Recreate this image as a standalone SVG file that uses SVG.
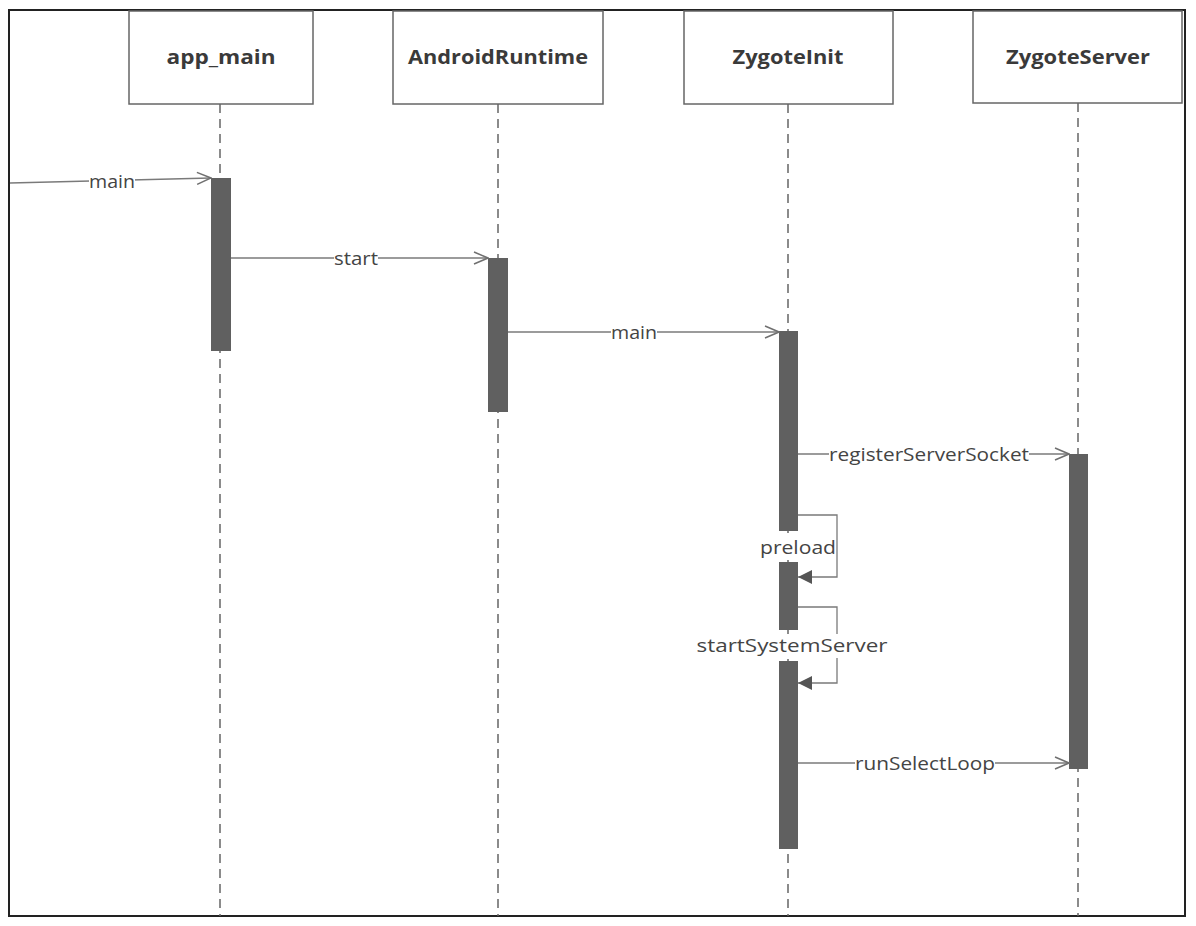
<svg xmlns="http://www.w3.org/2000/svg" width="1196" height="926" viewBox="0 0 1196 926">
<defs>
<marker id="open" markerWidth="16" markerHeight="14" refX="15" refY="7" orient="auto" markerUnits="userSpaceOnUse">
<path d="M1,1 L15,7 L1,13" fill="none" stroke="#707070" stroke-width="1.5"/>
</marker>
<marker id="filled" markerWidth="16" markerHeight="14" refX="15" refY="7" orient="auto" markerUnits="userSpaceOnUse">
<path d="M1,0 L15,7 L1,14 Z" fill="#555"/>
</marker>
<style>
.box{fill:#fff;stroke:#666;stroke-width:1.5}
.title{font-family:"Open Sans","Noto Sans",sans-serif;font-weight:bold;font-size:20px;fill:#3a3a3a;text-anchor:middle}
.life{stroke:#666;stroke-width:1.5;stroke-dasharray:9,6;fill:none}
.act{fill:#606060}
.msg{stroke:#7a7a7a;stroke-width:1.3;fill:none}
.lbl{font-family:"Open Sans","Noto Sans",sans-serif;font-size:19px;fill:#444;text-anchor:middle}
.bg{fill:#fff}
</style>
</defs>
<rect x="0" y="0" width="1196" height="926" fill="#fff"/>
<rect x="9" y="10" width="1176" height="906" fill="none" stroke="#222" stroke-width="2"/>

<g id="app_main">
<line class="life" x1="220" y1="104" x2="220" y2="916"/>
<rect class="box" x="129" y="11" width="184" height="93"/>
<text class="title" x="221" y="64" textLength="109" lengthAdjust="spacingAndGlyphs">app_main</text>
<rect class="act" x="211" y="178" width="20" height="173"/>
</g>
<g id="AndroidRuntime">
<line class="life" x1="498" y1="104" x2="498" y2="916"/>
<rect class="box" x="393" y="11" width="210" height="93"/>
<text class="title" x="498" y="64" textLength="180" lengthAdjust="spacingAndGlyphs">AndroidRuntime</text>
<rect class="act" x="488" y="258" width="20" height="154"/>
</g>
<g id="ZygoteInit">
<line class="life" x1="788" y1="104" x2="788" y2="916"/>
<rect class="box" x="684" y="11" width="209" height="93"/>
<text class="title" x="788" y="64" textLength="111" lengthAdjust="spacingAndGlyphs">ZygoteInit</text>
<rect class="act" x="779" y="331" width="19" height="200"/>
<rect class="act" x="779" y="562" width="19" height="68"/>
<rect class="act" x="779" y="661" width="19" height="188"/>
</g>
<g id="ZygoteServer">
<line class="life" x1="1078" y1="103" x2="1078" y2="916"/>
<rect class="box" x="973" y="11" width="209" height="92"/>
<text class="title" x="1078" y="64" textLength="144" lengthAdjust="spacingAndGlyphs">ZygoteServer</text>
<rect class="act" x="1069" y="454" width="19" height="315"/>
</g>

<g id="connectors">
<line class="msg" x1="10" y1="183" x2="211" y2="178" marker-end="url(#open)"/>
<rect class="bg" x="89" y="171" width="46" height="22"/>
<text class="lbl" x="112" y="188" textLength="46" lengthAdjust="spacingAndGlyphs">main</text>

<line class="msg" x1="231" y1="258" x2="488" y2="258" marker-end="url(#open)"/>
<rect class="bg" x="334" y="247" width="44" height="22"/>
<text class="lbl" x="356" y="265" textLength="44" lengthAdjust="spacingAndGlyphs">start</text>

<line class="msg" x1="508" y1="332" x2="779" y2="332" marker-end="url(#open)"/>
<rect class="bg" x="611" y="321" width="46" height="22"/>
<text class="lbl" x="634" y="339" textLength="46" lengthAdjust="spacingAndGlyphs">main</text>

<line class="msg" x1="798" y1="454" x2="1069" y2="454" marker-end="url(#open)"/>
<rect class="bg" x="829" y="443" width="200" height="22"/>
<text class="lbl" x="929" y="461" textLength="200" lengthAdjust="spacingAndGlyphs">registerServerSocket</text>

<polyline class="msg" points="798,515 837,515 837,577 798,577" marker-end="url(#filled)"/>
<rect class="bg" x="760" y="536" width="76" height="24"/>
<text class="lbl" x="798" y="554" textLength="76" lengthAdjust="spacingAndGlyphs">preload</text>

<polyline class="msg" points="798,607 837,607 837,683 798,683" marker-end="url(#filled)"/>
<rect class="bg" x="697" y="634" width="191" height="24"/>
<text class="lbl" x="792" y="652" textLength="191" lengthAdjust="spacingAndGlyphs">startSystemServer</text>

<line class="msg" x1="798" y1="763" x2="1069" y2="763" marker-end="url(#open)"/>
<rect class="bg" x="855" y="752" width="140" height="22"/>
<text class="lbl" x="925" y="770" textLength="140" lengthAdjust="spacingAndGlyphs">runSelectLoop</text>
</g>
</svg>
